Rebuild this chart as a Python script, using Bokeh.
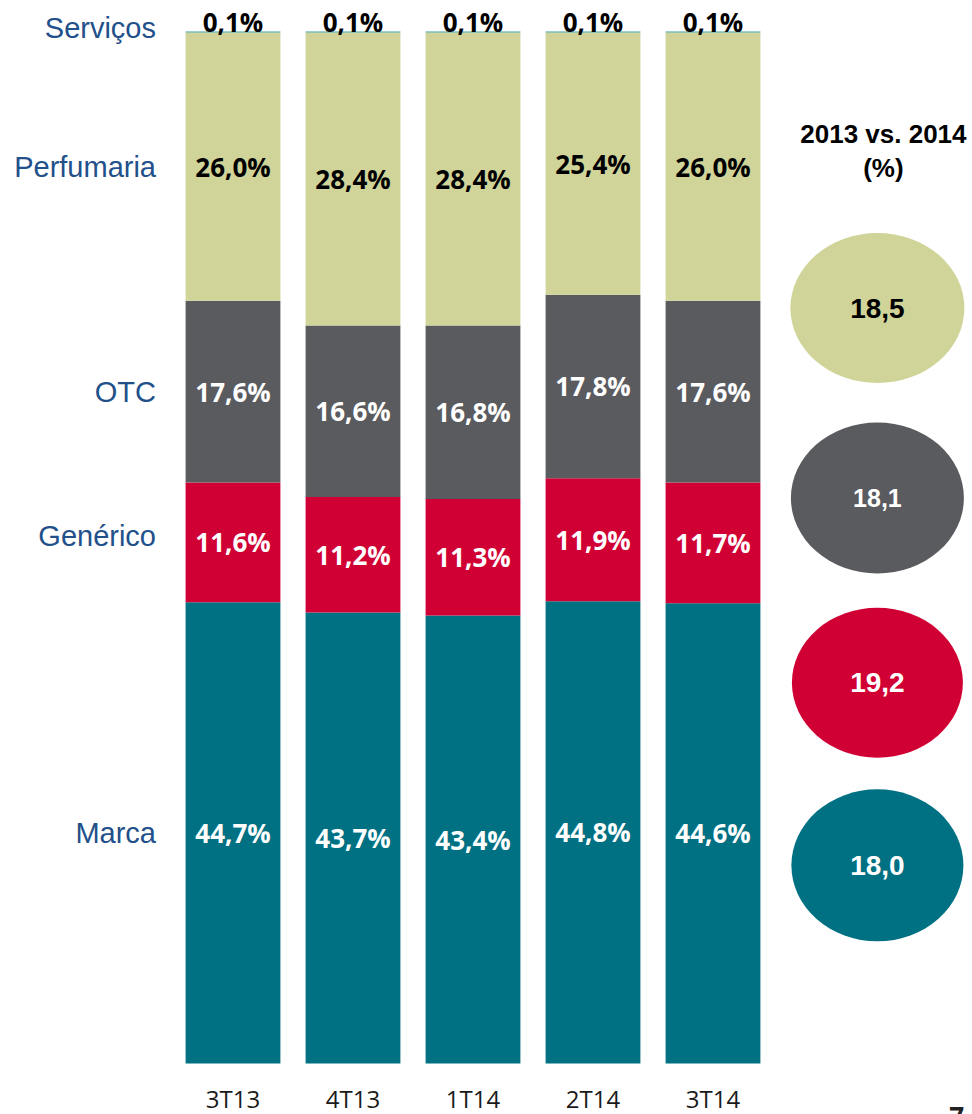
from bokeh.plotting import figure
from bokeh.models import ColumnDataSource, Range1d
from bokeh.core.properties import value
from bokeh.embed import file_html
from bokeh.resources import INLINE

# ---- data ----
periods = ["3T13", "4T13", "1T14", "2T14", "3T14"]
segments = ["Marca", "Genérico", "OTC", "Perfumaria", "Serviços"]
marca = [44.7, 43.7, 43.4, 44.8, 44.6]
generico = [11.6, 11.2, 11.3, 11.9, 11.7]
otc = [17.6, 16.6, 16.8, 17.8, 17.6]
perfumaria = [26.0, 28.4, 28.4, 25.4, 26.0]
servicos = [0.1, 0.1, 0.1, 0.1, 0.1]
growth_labels = ["18,5", "18,1", "19,2", "18,0"]  # Perfumaria, OTC, Genérico, Marca
header_lines = ["2013 vs. 2014", "(%)"]

colors = {"Marca": "#007083", "Genérico": "#D10034", "OTC": "#5A5B5F",
          "Perfumaria": "#D0D498", "Serviços": "#3A9C9F"}
label_colors = {"Marca": "white", "Genérico": "white", "OTC": "white",
                "Perfumaria": "black", "Serviços": "black"}

series = {"Marca": marca, "Genérico": generico, "OTC": otc,
          "Perfumaria": perfumaria, "Serviços": servicos}

xs = list(range(len(periods)))

p = figure(width=972, height=1114, output_backend="svg", toolbar_location=None,
           x_range=Range1d(-1.9375, 6.1625), y_range=Range1d(-4.94, 103.0),
           min_border=0, outline_line_color=None, background_fill_color="white",
           border_fill_color="white")
p.axis.visible = False
p.grid.visible = False

# ---- stacked bars ----
bottoms = [0.0] * len(periods)
seg_centers = {}
for seg in segments:
    vals = series[seg]
    tops = [b + v for b, v in zip(bottoms, vals)]
    src = ColumnDataSource(dict(x=xs, bottom=bottoms, top=tops))
    p.vbar(x="x", bottom="bottom", top="top", width=0.79, source=src,
           fill_color=colors[seg], line_color=None)
    seg_centers[seg] = [(b + t) / 2 for b, t in zip(bottoms, tops)]
    # value labels
    labels = [f"{v:.1f}".replace(".", ",") + "%" for v in vals]
    if seg == "Serviços":
        ly = tops
        yoff = -9
    else:
        ly = seg_centers[seg]
        yoff = 0
    lsrc = ColumnDataSource(dict(x=xs, y=ly, t=labels))
    p.text(x="x", y="y", text="t", source=lsrc, text_align="center",
           text_baseline="middle", y_offset=yoff,
           text_font=value("Open Sans"), text_font_style="bold",
           text_font_size="26px", text_color=label_colors[seg])
    bottoms = tops

# ---- category names on the left ----
name_y = [seg_centers[s][0] for s in segments]
name_y[-1] = bottoms[0]
name_off = [0, -6, 0, 0, -3]
for s, y, off in zip(segments, name_y, name_off):
    p.text(x=[xs[0]], y=[y], text=[s], x_offset=-77, y_offset=off,
           text_align="right", text_baseline="middle",
           text_font=value("Liberation Sans"), text_font_size="29px",
           text_color="#22508A")

# ---- period labels ----
p.text(x=xs, y=[-3.4] * len(xs), text=periods, text_align="center",
       text_baseline="middle", text_font=value("Open Sans"),
       text_font_size="24px", text_color="#1a1a1a")

# ---- growth ellipses ----
ell_x = 5.37
ell_y = [73.2, 54.8, 36.9, 19.2]
ell_segs = ["Perfumaria", "OTC", "Genérico", "Marca"]
ell_w = [174, 173, 171, 172]
ell_h = [150, 151, 150, 152]
for s, y, w, h, t in zip(ell_segs, ell_y, ell_w, ell_h, growth_labels):
    p.ellipse(x=[ell_x], y=[y], width=w, height=h, width_units="screen",
              height_units="screen", fill_color=colors[s], line_color=None)
    p.text(x=[ell_x], y=[y], text=[t], text_align="center", text_baseline="middle",
           text_font=value("Liberation Sans"), text_font_style="bold",
           text_font_size="25px" if s == "OTC" else "28px",
           text_color=label_colors[s])

# ---- header ----
p.text(x=[5.42, 5.42], y=[90.1, 86.8], text=header_lines, text_align="center",
       text_baseline="middle", text_font=value("Liberation Sans"),
       text_font_style="bold", text_font_size="26px", text_color="black")

# page number (partially cut at the bottom)
p.text(x=[6.03], y=[-4.2], text=["7"], text_align="center", text_baseline="top",
       text_font=value("Open Sans"), text_font_style="bold",
       text_font_size="26px", text_color="#222222")

open("out.html", "w").write(file_html(p, INLINE))
